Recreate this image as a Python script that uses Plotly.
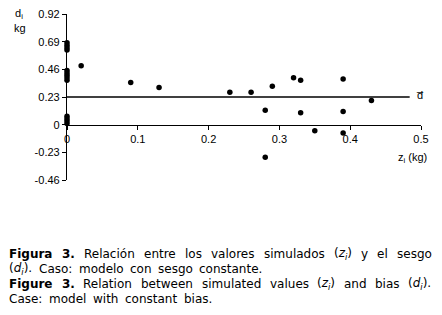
import plotly.graph_objects as go

# ---- data ----
z_vals = [0, 0, 0, 0, 0, 0, 0, 0, 0, 0, 0, 0, 0,
          0.02, 0.09, 0.13, 0.23, 0.26, 0.28, 0.28, 0.29, 0.32, 0.33, 0.33,
          0.35, 0.39, 0.39, 0.39, 0.43]
d_vals = [0.68, 0.66, 0.64, 0.62, 0.45, 0.43, 0.41, 0.39, 0.37, 0.07, 0.05, 0.03, 0.01,
          0.49, 0.35, 0.31, 0.27, 0.27, 0.12, -0.27, 0.32, 0.39, 0.37, 0.10,
          -0.05, 0.38, 0.11, -0.07, 0.20]
d_mean = 0.23
mean_x = [0, 0.484]
y_ticks = [-0.46, -0.23, 0, 0.23, 0.46, 0.69, 0.92]
y_tick_text = ["-0.46", "-0.23", "0", "0.23", "0.46", "0.69", "0.92"]
x_ticks = [0, 0.1, 0.2, 0.3, 0.4, 0.5]
x_tick_text = ["0", "0.1", "0.2", "0.3", "0.4", "0.5"]

caption_lines = [
    ["<b>Figura</b>", "<b>3.</b>", "Relación", "entre", "los", "valores", "simulados",
     "(<i>z<sub>i</sub></i>)", "y", "el", "sesgo"],
    ["(<i>d<sub>i</sub></i>).", "Caso:", "modelo", "con", "sesgo", "constante."],
    ["<b>Figure</b>", "<b>3.</b>", "Relation", "between", "simulated", "values",
     "(<i>z<sub>i</sub></i>)", "and", "bias", "(<i>d<sub>i</sub></i>)."],
    ["Case:", "model", "with", "constant", "bias."],
]

# ---- layout geometry (page pixels; the page body adds an 8px offset) ----
OFF = 8
W, H = 442, 315
L, R, T, B = 59, 29.3, 5.5, 143
PW, PH = W - L - R, H - T - B

def px(vx):
    return (vx - OFF - L) / PW

def py(vy):
    return (H - B - (vy - OFF)) / PH

caption_x = [
    [8.5, 61, 82.9, 143.2, 184.2, 210.1, 262.8, 332.6, 359.6, 375.7, 395.4],
    [8.5, 38, 77.8, 128.9, 156.9, 198.1],
    [8.5, 60.6, 82.1, 140, 200.5, 268.4, 315.9, 342.5, 373.7, 406.9],
    [8.5, 48.4, 92.3, 124.2, 182.9],
]
caption_y = [254, 269.5, 284.5, 299]

font = "Liberation Sans, Arial, sans-serif"
fig = go.Figure()
fig.add_trace(go.Scatter(x=mean_x, y=[d_mean, d_mean], mode="lines",
                         line=dict(color="black", width=1.3), hoverinfo="skip"))
fig.add_trace(go.Scatter(x=z_vals, y=d_vals, mode="markers",
                         marker=dict(color="black", size=5.5), cliponaxis=False))

fig.update_layout(
    width=W, height=H, showlegend=False,
    paper_bgcolor="white", plot_bgcolor="white",
    margin=dict(l=L, r=R, t=T, b=B, autoexpand=False),
    font=dict(family=font, size=11, color="black"),
    xaxis=dict(range=[0, 0.5], tickvals=x_ticks, ticktext=x_tick_text,
               showgrid=False, zeroline=False, showline=True, linecolor="black", linewidth=1.2,
               ticks="outside", ticklen=4, tickcolor="black", tickwidth=1.2,
               anchor="free", position=1/3, ticklabeloverflow="allow"),
    yaxis=dict(range=[-0.46, 0.92], tickvals=y_ticks, ticktext=y_tick_text,
               showgrid=False, zeroline=False, showline=True, linecolor="black", linewidth=1.2,
               ticks="outside", ticklen=4, tickcolor="black", tickwidth=1.2,
               ticklabeloverflow="allow"),
)

labels = [
    (19, 14, "d<sub>i</sub>"),
    (20, 28, "kg"),
    (420, 95, "d\u0305"),
    (412, 158, "z<sub>i</sub> (kg)"),
]
for vx, vy, t in labels:
    fig.add_annotation(xref="paper", yref="paper", x=px(vx), y=py(vy), text=t,
                       showarrow=False, font=dict(family=font, size=11),
                       xanchor="center", yanchor="middle")

cap_font = dict(family="DejaVu Sans, sans-serif", size=12, color="black")
for words, xs, vy in zip(caption_lines, caption_x, caption_y):
    for w, vx in zip(words, xs):
        fig.add_annotation(xref="paper", yref="paper", x=px(vx), y=py(vy), text=w,
                           showarrow=False, font=cap_font, xanchor="left",
                           yanchor="middle", align="left", borderpad=0)

fig.write_html("out.html")
